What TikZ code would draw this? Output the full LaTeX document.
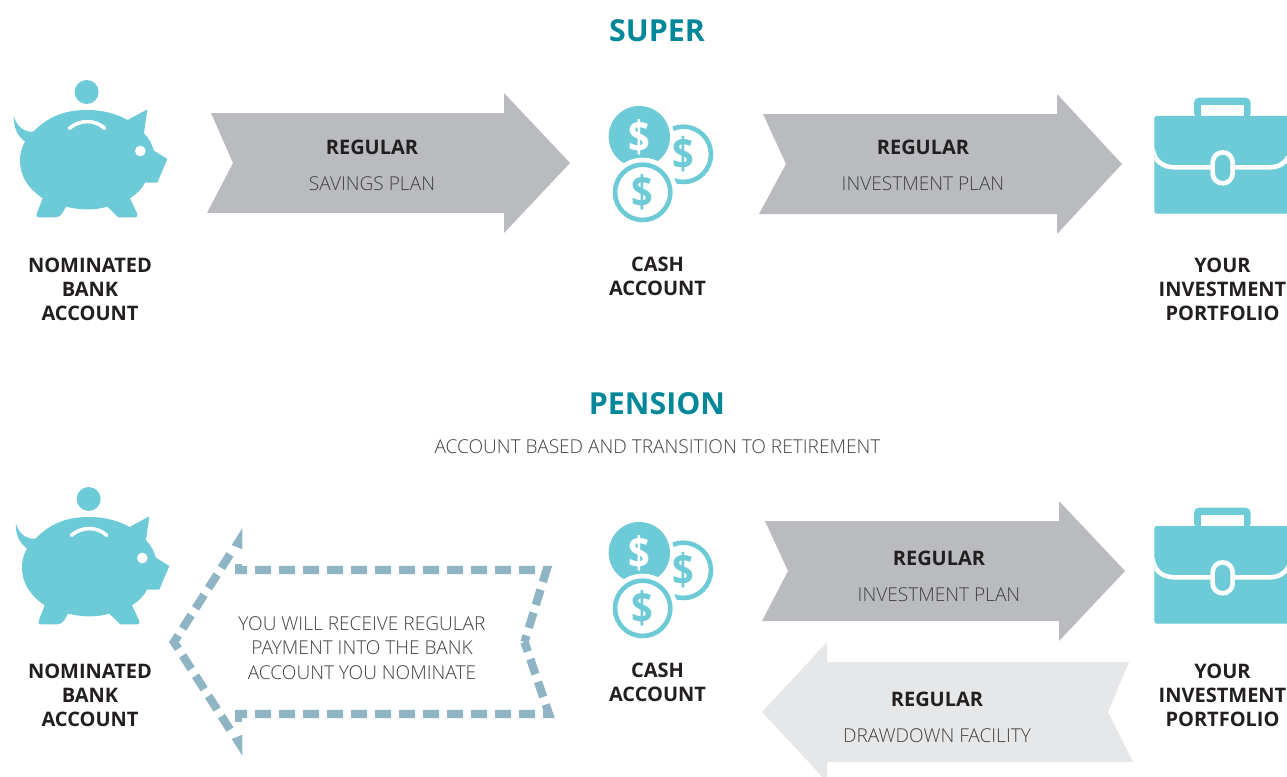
\documentclass[tikz,border=0pt]{standalone}
\usepackage{fontspec}
\setmainfont{Open Sans}
\newfontfamily\lightf{Open Sans Light}
\definecolor{icon}{HTML}{6CCBD6}
\definecolor{teal2}{HTML}{00889A}
\definecolor{grey1}{HTML}{B9BBBE}
\definecolor{grey2}{HTML}{E6E7E9}
\definecolor{dashc}{HTML}{8FB4C3}
\definecolor{ink}{HTML}{231F20}
\definecolor{thin}{HTML}{404040}
\tikzset{
 title/.style={font=\fontsize{30.3}{36}\selectfont\bfseries,text=teal2,inner sep=0pt},
 lab/.style={font=\fontsize{20}{24}\selectfont\bfseries,text=ink,align=center,inner sep=0pt},
 hd/.style={font=\fontsize{20}{24}\selectfont\bfseries,text=ink,inner sep=0pt},
 sub/.style={font=\lightf\fontsize{19.1}{24.5}\selectfont,text=thin,align=center,inner sep=0pt},
 band/.style={fill=grey1,draw=none},
 dsh/.style={draw=dashc,line width=8.3pt,dash pattern=on 16pt off 8pt,line join=miter},
 coinmark/.style={inner sep=0pt,font=\fontsize{38}{38}\selectfont\bfseries,yscale=1.15},
 pics/piggy/.style={code={
  \begin{scope}[x=0.3333pt,y=-0.3333pt]
   \fill[icon] (260,66) circle (36);
   \fill[icon] (42,140) .. controls (50,170) and (75,188) .. (100,185)
     .. controls (150,135) and (200,120) .. (262,120)
     .. controls (310,120) and (350,132) .. (383,150)
     -- (442,118) -- (432,190)
     .. controls (448,205) and (455,222) .. (462,242)
     -- (502,267) -- (472,338) -- (435,338)
     .. controls (425,358) and (410,372) .. (390,385)
     -- (412,432) .. controls (414,440) and (410,442) .. (405,442)
     -- (355,442) -- (322,410)
     .. controls (280,422) and (240,420) .. (198,410)
     -- (188,428) .. controls (180,440) and (172,442) .. (165,442)
     -- (116,442) .. controls (110,442) and (108,438) .. (110,432)
     -- (128,385)
     .. controls (85,355) and (60,320) .. (60,270)
     .. controls (60,250) and (65,232) .. (75,215)
     .. controls (50,195) and (40,170) .. (42,140) -- cycle;
   \draw[white,line width=3.6pt,line cap=round] (208,175) .. controls (240,148) and (285,148) .. (314,175);
   \fill[white] (421,243) circle (16);
  \end{scope}}},
 pics/coins/.style={code={
  \begin{scope}[x=0.3333pt,y=-0.3333pt]
   \draw[icon,line width=4.6pt] (280,193) circle (83);
   \fill[white] (148,140) circle (104);
   \fill[icon] (148,140) circle (92);
   \fill[white] (158,307) circle (104);
   \draw[icon,line width=4.6pt] (158,307) circle (83);
   \node[coinmark,text=white] at (147,142) {\$};
   \node[coinmark,text=icon] at (280,193) {\$};
   \node[coinmark,text=icon] at (158,307) {\$};
  \end{scope}}},
 pics/brief/.style={code={
  \begin{scope}[x=0.3333pt,y=-0.3333pt]
   \fill[icon,rounded corners=5pt] (162,100) -- (162,38) -- (332,38) -- (332,100) -- cycle;
   \fill[white] (184,60) rectangle (312,95);
   \fill[icon] (50,93) -- (441,93) -- (441,386) -- (50,386) .. controls (46,386) and (43,383) .. (43,379) -- (43,100) .. controls (43,96) and (46,93) .. (50,93) -- cycle;
   \begin{scope}
    \clip (43,93) rectangle (441,386);
    \draw[white,line width=4.6pt] (38,190) .. controls (42,230) and (70,247) .. (105,247) -- (385,247) .. controls (415,247) and (432,238) .. (446,215);
   \end{scope}
   \fill[icon] (212,220) rectangle (282,275);
   \draw[white,line width=4.6pt,fill=icon,rounded corners=10pt] (218,202) rectangle (278,295);
  \end{scope}}}
}
\begin{document}
\begin{tikzpicture}[x=1pt,y=-1pt]
\useasboundingbox (0,0) rectangle (1287,776);
\begin{scope}
\clip (0,0) rectangle (1287,776);
% bands
\fill[band] (211,113) -- (504,113) -- (504,93) -- (570,163) -- (504,233) -- (504,213) -- (207,213) -- (233,163) -- cycle;
\fill[band] (763,114) -- (1057,114) -- (1057,94) -- (1122,164) -- (1057,234) -- (1057,214) -- (759,214) -- (786,164) -- cycle;
\fill[band] (765,521) -- (1059,521) -- (1059,501) -- (1125,571) -- (1059,641) -- (1059,621) -- (762,621) -- (788,571) -- cycle;
\fill[grey2] (827,642) -- (762,712) -- (827,782) -- (827,762) -- (1133,762) -- (1108,712) -- (1129,662) -- (827,662) -- cycle;
% dashed arrow
\draw[dsh] (230,554.4) -- (174,642) -- (230,729.6);
\fill[dashc] (242.3,528.3) -- (231.7,545) -- (242.3,549.3) -- cycle;
\fill[dashc] (242.3,755.7) -- (231.7,739) -- (242.3,734.7) -- cycle;
\draw[dsh,dash phase=4pt] (235,570) -- (546.5,570) -- (524.5,642);
\draw[dsh,dash phase=4pt] (235,714) -- (549,714) -- (524.5,642);
\fill[dashc] (235,563.5) rectangle (242,570);
\fill[dashc] (235,714) rectangle (242,721.5);
% icons
\pic at (0,70) {piggy};
\pic at (2,477) {piggy};
\pic at (590,90) {coins};
\pic at (590,506) {coins};
\pic at (1140,85) {brief};
\pic at (1140,495) {brief};
\end{scope}
% texts
\node[title] (t1) at (657,31) {SUPER};
\node[title] (t2) at (657,404) {PENSION};
\node[sub] (t3) at (657.5,447) {ACCOUNT BASED AND TRANSITION TO RETIREMENT};
\node[hd] (a1) at (372,147) {REGULAR};
\node[sub] (a2) at (372,184) {SAVINGS PLAN};
\node[hd] (b1) at (923,147) {REGULAR};
\node[sub] (b2) at (923,184) {INVESTMENT PLAN};
\node[hd] (c1) at (939,558) {REGULAR};
\node[sub] (c2) at (939,595) {INVESTMENT PLAN};
\node[hd] (d1) at (937,699) {REGULAR};
\node[sub] (d2) at (937,736) {DRAWDOWN FACILITY};
\node[sub] (e) at (362,648) {YOU WILL RECEIVE REGULAR\\PAYMENT INTO THE BANK\\ACCOUNT YOU NOMINATE};
\node[lab] (l1) at (90,289) {NOMINATED\\BANK\\ACCOUNT};
\node[lab] (l2) at (657.5,276) {CASH\\ACCOUNT};
\node[lab] (l3) at (1222.5,289) {YOUR\\INVESTMENT\\PORTFOLIO};
\node[lab] (l4) at (90,695) {NOMINATED\\BANK\\ACCOUNT};
\node[lab] (l5) at (657.5,682) {CASH\\ACCOUNT};
\node[lab] (l6) at (1222.5,695) {YOUR\\INVESTMENT\\PORTFOLIO};
\end{tikzpicture}
\end{document}
